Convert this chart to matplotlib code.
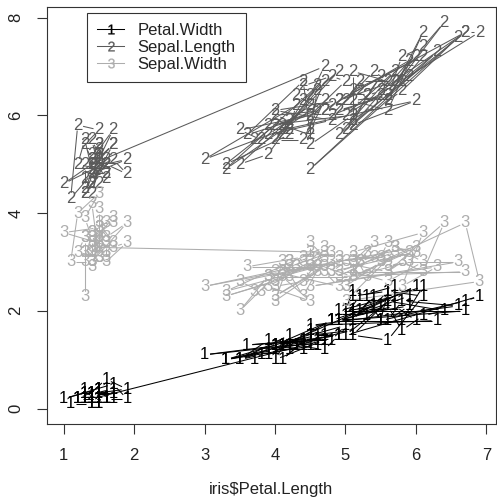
import numpy as np
import matplotlib
matplotlib.use('Agg')
import matplotlib.pyplot as plt
from matplotlib.lines import Line2D
from matplotlib.collections import LineCollection

plt.rcParams['font.family'] = ['Liberation Sans', 'DejaVu Sans']
plt.rcParams['mathtext.default'] = 'regular'

# iris data, in row order
sepal_length = [5.1, 4.9, 4.7, 4.6, 5.0, 5.4, 4.6, 5.0, 4.4, 4.9, 5.4, 4.8, 4.8, 4.3, 5.8, 5.7, 5.4, 5.1, 5.7, 5.1,
                5.4, 5.1, 4.6, 5.1, 4.8, 5.0, 5.0, 5.2, 5.2, 4.7, 4.8, 5.4, 5.2, 5.5, 4.9, 5.0, 5.5, 4.9, 4.4, 5.1,
                5.0, 4.5, 4.4, 5.0, 5.1, 4.8, 5.1, 4.6, 5.3, 5.0,
                7.0, 6.4, 6.9, 5.5, 6.5, 5.7, 6.3, 4.9, 6.6, 5.2, 5.0, 5.9, 6.0, 6.1, 5.6, 6.7, 5.6, 5.8, 6.2, 5.6,
                5.9, 6.1, 6.3, 6.1, 6.4, 6.6, 6.8, 6.7, 6.0, 5.7, 5.5, 5.5, 5.8, 6.0, 5.4, 6.0, 6.7, 6.3, 5.6, 5.5,
                5.5, 6.1, 5.8, 5.0, 5.6, 5.7, 5.7, 6.2, 5.1, 5.7,
                6.3, 5.8, 7.1, 6.3, 6.5, 7.6, 4.9, 7.3, 6.7, 7.2, 6.5, 6.4, 6.8, 5.7, 5.8, 6.4, 6.5, 7.7, 7.7, 6.0,
                6.9, 5.6, 7.7, 6.3, 6.7, 7.2, 6.2, 6.1, 6.4, 7.2, 7.4, 7.9, 6.4, 6.3, 6.1, 7.7, 6.3, 6.4, 6.0, 6.9,
                6.7, 6.9, 5.8, 6.8, 6.7, 6.7, 6.3, 6.5, 6.2, 5.9]
sepal_width = [3.5, 3.0, 3.2, 3.1, 3.6, 3.9, 3.4, 3.4, 2.9, 3.1, 3.7, 3.4, 3.0, 3.0, 4.0, 4.4, 3.9, 3.5, 3.8, 3.8,
               3.4, 3.7, 3.6, 3.3, 3.4, 3.0, 3.4, 3.5, 3.4, 3.2, 3.1, 3.4, 4.1, 4.2, 3.1, 3.2, 3.5, 3.6, 3.0, 3.4,
               3.5, 2.3, 3.2, 3.5, 3.8, 3.0, 3.8, 3.2, 3.7, 3.3,
               3.2, 3.2, 3.1, 2.3, 2.8, 2.8, 3.3, 2.4, 2.9, 2.7, 2.0, 3.0, 2.2, 2.9, 2.9, 3.1, 3.0, 2.7, 2.2, 2.5,
               3.2, 2.8, 2.5, 2.8, 2.9, 3.0, 2.8, 3.0, 2.9, 2.6, 2.4, 2.4, 2.7, 2.7, 3.0, 3.4, 3.1, 2.3, 3.0, 2.5,
               2.6, 3.0, 2.6, 2.3, 2.7, 3.0, 2.9, 2.9, 2.5, 2.8,
               3.3, 2.7, 3.0, 2.9, 3.0, 3.0, 2.5, 2.9, 2.5, 3.6, 3.2, 2.7, 3.0, 2.5, 2.8, 3.2, 3.0, 3.8, 2.6, 2.2,
               3.2, 2.8, 2.8, 2.7, 3.3, 3.2, 2.8, 3.0, 2.8, 3.0, 2.8, 3.8, 2.8, 2.8, 2.6, 3.0, 3.4, 3.1, 3.0, 3.1,
               3.1, 3.1, 2.7, 3.2, 3.3, 3.0, 2.5, 3.0, 3.4, 3.0]
petal_length = [1.4, 1.4, 1.3, 1.5, 1.4, 1.7, 1.4, 1.5, 1.4, 1.5, 1.5, 1.6, 1.4, 1.1, 1.2, 1.5, 1.3, 1.4, 1.7, 1.5,
                1.7, 1.5, 1.0, 1.7, 1.9, 1.6, 1.6, 1.5, 1.4, 1.6, 1.6, 1.5, 1.5, 1.4, 1.5, 1.2, 1.3, 1.4, 1.3, 1.5,
                1.3, 1.3, 1.3, 1.6, 1.9, 1.4, 1.6, 1.4, 1.5, 1.4,
                4.7, 4.5, 4.9, 4.0, 4.6, 4.5, 4.7, 3.3, 4.6, 3.9, 3.5, 4.2, 4.0, 4.7, 3.6, 4.4, 4.5, 4.1, 4.5, 3.9,
                4.8, 4.0, 4.9, 4.7, 4.3, 4.4, 4.8, 5.0, 4.5, 3.5, 3.8, 3.7, 3.9, 5.1, 4.5, 4.5, 4.7, 4.4, 4.1, 4.0,
                4.4, 4.6, 4.0, 3.3, 4.2, 4.2, 4.2, 4.3, 3.0, 4.1,
                6.0, 5.1, 5.9, 5.6, 5.8, 6.6, 4.5, 6.3, 5.8, 6.1, 5.1, 5.3, 5.5, 5.0, 5.1, 5.3, 5.5, 6.7, 6.9, 5.0,
                5.7, 4.9, 6.7, 4.9, 5.7, 6.0, 4.8, 4.9, 5.6, 5.8, 6.1, 6.4, 5.6, 5.1, 5.6, 6.1, 5.6, 5.5, 4.8, 5.4,
                5.6, 5.1, 5.1, 5.9, 5.7, 5.2, 5.0, 5.2, 5.4, 5.1]
petal_width = [0.2, 0.2, 0.2, 0.2, 0.2, 0.4, 0.3, 0.2, 0.2, 0.1, 0.2, 0.2, 0.1, 0.1, 0.2, 0.4, 0.4, 0.3, 0.3, 0.3,
               0.2, 0.4, 0.2, 0.5, 0.2, 0.2, 0.4, 0.2, 0.2, 0.2, 0.2, 0.4, 0.1, 0.2, 0.2, 0.2, 0.2, 0.1, 0.2, 0.2,
               0.3, 0.3, 0.2, 0.6, 0.4, 0.3, 0.2, 0.2, 0.2, 0.2,
               1.4, 1.5, 1.5, 1.3, 1.5, 1.3, 1.6, 1.0, 1.3, 1.4, 1.0, 1.5, 1.0, 1.4, 1.3, 1.4, 1.5, 1.0, 1.5, 1.1,
               1.8, 1.3, 1.5, 1.2, 1.3, 1.4, 1.4, 1.7, 1.5, 1.0, 1.1, 1.0, 1.2, 1.6, 1.5, 1.6, 1.5, 1.3, 1.3, 1.3,
               1.2, 1.4, 1.2, 1.0, 1.3, 1.2, 1.3, 1.3, 1.1, 1.3,
               2.5, 1.9, 2.1, 1.8, 2.2, 2.1, 1.7, 1.8, 1.8, 2.5, 2.0, 1.9, 2.1, 2.0, 2.4, 2.3, 1.8, 2.2, 2.3, 1.5,
               2.3, 2.0, 2.0, 1.8, 2.1, 1.8, 1.8, 1.8, 2.1, 1.6, 1.9, 2.0, 2.2, 1.5, 1.4, 2.3, 2.4, 1.8, 1.8, 2.1,
               2.4, 2.3, 1.9, 2.3, 2.5, 2.3, 1.9, 2.0, 2.3, 1.8]

series_names = ['Petal.Width', 'Sepal.Length', 'Sepal.Width']
series_values = [petal_width, sepal_length, sepal_width]
series_colors = ['#000000', '#5a5a5a', '#adadad']
symbols = ['1', '2', '3']

fig = plt.figure(figsize=(4.97, 5.03), dpi=100)
ax = fig.add_axes([47 / 497, 79 / 503, 449 / 497, 417 / 503])

x = np.array(petal_length)
xr = (min(x), max(x))
yr = (0, max(sepal_length))
ax.set_xlim(xr[0] - 0.04 * (xr[1] - xr[0]), xr[1] + 0.04 * (xr[1] - xr[0]))
ax.set_ylim(yr[0] - 0.04 * (yr[1] - yr[0]), yr[1] + 0.04 * (yr[1] - yr[0]))

# type="b": lines stop short of each symbol
gap = 5.5  # pixels
for vals, col, sym in zip(series_values, series_colors, symbols):
    pts = ax.transData.transform(np.column_stack([x, vals]))
    segs = []
    for p0, p1 in zip(pts[:-1], pts[1:]):
        d = p1 - p0
        L = np.hypot(*d)
        if L > 2 * gap:
            u = d / L
            seg = np.array([p0 + gap * u, p1 - gap * u])
            segs.append(ax.transData.inverted().transform(seg))
    ax.add_collection(LineCollection(segs, colors=col, linewidths=0.75))
    for xi, yi in zip(x, vals):
        ax.text(xi, yi, sym, color=col, fontsize=12, ha='center', va='center')

ax.set_xticks([1, 2, 3, 4, 5, 6, 7])
ax.set_yticks([0, 2, 4, 6, 8])
ax.tick_params(direction='out', length=7, width=0.8, labelsize=12, pad=10,
               color='#333333', labelcolor='#222222')
plt.setp(ax.get_yticklabels(), rotation=90, va='center')
for s in ax.spines.values():
    s.set_linewidth(0.8)
    s.set_color('#333333')
ax.set_xlabel(r'iris\$Petal.Length', fontsize=12, labelpad=14, color='#222222')

handles = [Line2D([], [], color=c, lw=0.75, marker='$' + s + '$', markersize=7, markeredgewidth=0.2)
           for c, s in zip(series_colors, symbols)]
leg = ax.legend(handles, series_names, loc='upper left', bbox_to_anchor=(0.09, 0.985),
                fontsize=12, frameon=True, fancybox=False, handlelength=1.6,
                handletextpad=0.8, borderpad=0.6, labelspacing=0.1, borderaxespad=0)
leg.get_frame().set_edgecolor('black')
leg.get_frame().set_linewidth(0.8)
for t in leg.get_texts():
    t.set_color('#222222')

fig.savefig('out.png', dpi=100)
